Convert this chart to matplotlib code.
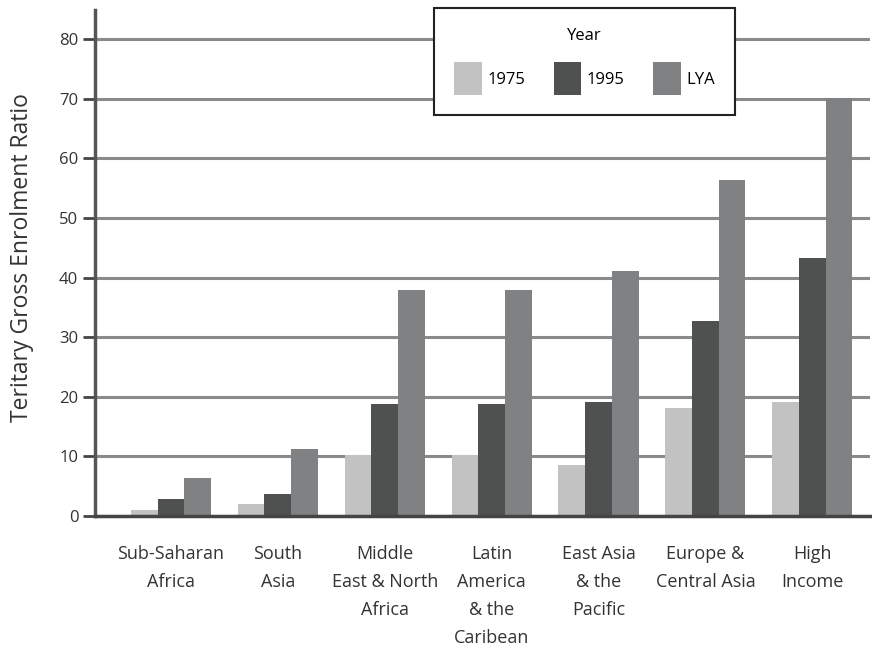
import matplotlib
matplotlib.use("Agg")
import matplotlib.pyplot as plt
import numpy as np

regions = ["Sub-Saharan\nAfrica", "South\nAsia", "Middle\nEast & North\nAfrica",
           "Latin\nAmerica\n& the\nCaribean", "East Asia\n& the\nPacific",
           "Europe &\nCentral Asia", "High\nIncome"]
v1975 = [1.0, 2.0, 10.2, 10.2, 8.5, 18.2, 19.1]
v1995 = [2.9, 3.7, 18.8, 18.8, 19.1, 32.7, 43.3]
vlya = [6.4, 11.2, 38.0, 38.0, 41.1, 56.4, 70.1]
series_names = ["1975", "1995", "LYA"]
yticks = [0, 10, 20, 30, 40, 50, 60, 70, 80]

plt.rcParams['font.family'] = ['Open Sans', 'DejaVu Sans']

fig = plt.figure(figsize=(8.72, 6.51), dpi=100)
ax = fig.add_axes([95/872, 1 - 516/651, 775/872, 506/651])

x = np.arange(len(regions))
w = 0.25
colors = ["#c2c2c2", "#4f5151", "#808182"]
for i, (vals, name, c) in enumerate(zip([v1975, v1995, vlya], series_names, colors)):
    ax.bar(x + (i - 1) * w, vals, width=w, color=c, label=name, zorder=3)

ax.set_xlim(-0.71, 6.54)
ax.set_ylim(0, 84.9)
ax.set_yticks(yticks)
ax.set_yticklabels([str(t) for t in yticks], fontsize=12, color="#333333")
ax.set_xticks(x)
ax.set_xticklabels(regions, fontsize=13, color="#333333", linespacing=1.7)
ax.tick_params(axis="x", length=0, pad=21)
ax.tick_params(axis="y", length=9, width=2, color="#444444", pad=3, direction="out")
ax.yaxis.grid(True, color="#8a8a8a", linewidth=2.2, zorder=0)
ax.set_axisbelow(True)
for s in ["top", "right"]:
    ax.spines[s].set_visible(False)
ax.spines["left"].set_color("#555555")
ax.spines["left"].set_linewidth(2.5)
ax.spines["bottom"].set_color("#444444")
ax.spines["bottom"].set_linewidth(2.5)
ax.spines["bottom"].set_zorder(4)

ax.set_ylabel("Teritary Gross Enrolment Ratio", fontsize=16.5, color="#333333")
ax.yaxis.set_label_coords(-0.079, 0.51)

leg = ax.legend(title="Year", ncol=3, loc="upper left", mode="expand",
                bbox_to_anchor=(434/872, 1 - 113/651, 301/872, 105/651),
                bbox_transform=fig.transFigure, borderaxespad=0,
                frameon=True, fancybox=False, edgecolor="#222222",
                fontsize=12, title_fontsize=12, handlelength=1.65, handleheight=2.6,
                columnspacing=1.6, borderpad=1.2, handletextpad=0.35, labelspacing=1.1)
leg.get_frame().set_linewidth(1.5)
leg.get_frame().set_alpha(1)
leg.set_zorder(5)

fig.savefig("out.png", dpi=100)
